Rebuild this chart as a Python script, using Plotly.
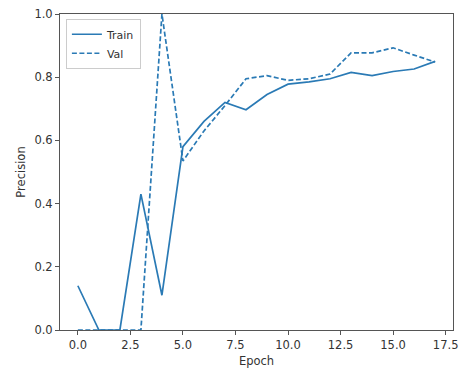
import plotly.graph_objects as go

epochs = list(range(18))
train = [0.14, 0.0, 0.0, 0.43, 0.11, 0.58, 0.66, 0.72, 0.697, 0.745, 0.778, 0.785, 0.795, 0.815, 0.805, 0.818, 0.826, 0.85]
val = [0.0, 0.0, 0.0, 0.0, 1.0, 0.535, 0.63, 0.71, 0.795, 0.805, 0.79, 0.795, 0.81, 0.877, 0.877, 0.893, 0.87, 0.848]

color = "#2a7ab5"
fig = go.Figure()
fig.add_trace(go.Scatter(x=epochs, y=train, mode="lines", name="Train",
                         line=dict(color=color, width=1.7)))
fig.add_trace(go.Scatter(x=epochs, y=val, mode="lines", name="Val",
                         line=dict(color=color, width=1.7, dash="5px,2.5px")))

font = dict(family="DejaVu Sans", size=11.5, color="#333333")
fig.update_layout(
    width=465, height=376,
    margin=dict(l=60, r=7, t=11, b=46),
    paper_bgcolor="white", plot_bgcolor="white",
    font=font,
    showlegend=True,
    legend=dict(x=0.015, y=0.985, xanchor="left", yanchor="top",
                bgcolor="rgba(255,255,255,0.8)", bordercolor="#cccccc", borderwidth=1,
                font=dict(family="DejaVu Sans", size=11, color="#333333"),
                tracegroupgap=0, itemwidth=30),
    xaxis=dict(range=[-0.85, 17.85], tickvals=[0, 2.5, 5, 7.5, 10, 12.5, 15, 17.5],
               tickformat=".1f", showgrid=False, zeroline=False,
               showline=True, linecolor="#555555", linewidth=1, mirror=True,
               ticks="outside", ticklen=4, tickcolor="#555555",
               title=dict(text="Epoch", font=font, standoff=6)),
    yaxis=dict(range=[0, 1], tickvals=[0, 0.2, 0.4, 0.6, 0.8, 1.0],
               tickformat=".1f", showgrid=False, zeroline=False,
               showline=True, linecolor="#555555", linewidth=1, mirror=True,
               ticks="outside", ticklen=4, tickcolor="#555555",
               title=dict(text="Precision", font=font, standoff=6)),
)
fig.write_html("out.html")
